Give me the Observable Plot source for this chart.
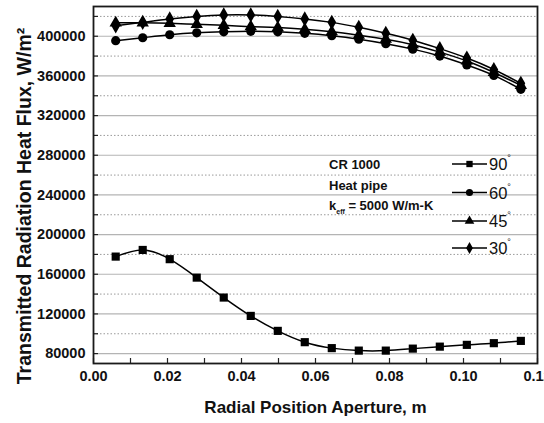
<!DOCTYPE html>
<html>
<head>
<meta charset="utf-8">
<script src="https://cdn.jsdelivr.net/npm/d3@7"></script>
<script src="https://cdn.jsdelivr.net/npm/@observablehq/plot@0.6"></script>
<style>
  html, body { margin: 0; padding: 0; background: #fff; overflow: hidden; }
  #wrap { position: relative; width: 544px; height: 423px; }
  #overlay { position: absolute; left: 0; top: 0; pointer-events: none; }
</style>
</head>
<body>
<div id="wrap"></div>
<script>
// ---- data ----
const radial = [0.006, 0.0133, 0.0206, 0.0279, 0.0352, 0.0425, 0.0498, 0.0571, 0.0644, 0.0717, 0.079, 0.0863, 0.0936, 0.1009, 0.1082, 0.1155];
const flux90 = [177800, 184500, 175200, 156600, 136500, 118000, 102900, 91500, 85500, 83000, 83000, 85000, 87000, 88800, 90500, 92800];
const flux60 = [395500, 398500, 401500, 403500, 404500, 405000, 404500, 403000, 400500, 397000, 392500, 387000, 380000, 371000, 360500, 346500];
const flux45 = [413500, 413500, 413000, 412000, 411000, 409700, 408700, 407000, 404500, 401000, 397000, 391500, 384000, 375000, 363500, 350500];
const flux30 = [410500, 414000, 417500, 420000, 421500, 421500, 420000, 417500, 414000, 409000, 403000, 396000, 387500, 378000, 366500, 352500];
const seriesNames = ["90", "60", "45", "30"];
const seriesSymbols = ["square", "circle", "triangle", "diamond"];
const seriesValues = [flux90, flux60, flux45, flux30];
const xTicks = [0, 0.02, 0.04, 0.06, 0.08, 0.10, 0.12];
const xMinorTicks = [0, 0.01, 0.02, 0.03, 0.04, 0.05, 0.06, 0.07, 0.08, 0.09, 0.10, 0.11, 0.12];
const yTicks = [80000, 120000, 160000, 200000, 240000, 280000, 320000, 360000, 400000];
const yMinorTicks = [100000, 140000, 180000, 220000, 260000, 300000, 340000, 380000, 420000];
const xTitle = "Radial Position Aperture, m";
const yTitle = "Transmitted Radiation Heat Flux, W/m²";
const noteLines = ["CR 1000", "Heat pipe"];

const rows = [];
seriesNames.forEach((name, i) => {
  radial.forEach((r, j) => rows.push({series: name, symbol: seriesSymbols[i], x: r, y: seriesValues[i][j]}));
});

const font = "'Liberation Sans', Arial, sans-serif";

const plot = Plot.plot({
  width: 544,
  height: 423,
  marginLeft: 93,
  marginRight: 7,
  marginTop: 6,
  marginBottom: 60,
  style: {fontFamily: font, background: "#fff", overflow: "hidden"},
  x: {domain: [0, 0.12]},
  y: {domain: [70000, 430000]},
  symbol: {type: "identity"},
  marks: [
    Plot.ruleY(yMinorTicks, {stroke: "#9a9a9a", strokeWidth: 1, strokeDasharray: "1.5,2"}),
    Plot.ruleY(yTicks, {stroke: "#b4b4b4", strokeWidth: 1.2}),
    Plot.axisX(xTicks, {tickSize: 0, tickPadding: 7, tickFormat: d3.format(".2f"), fontSize: 14.5, fontWeight: "bold", fill: "#111", label: null}),
    Plot.axisX(xMinorTicks, {tickSize: 5, dy: -5, text: null, label: null, stroke: "#222", strokeWidth: 1.2}),
    Plot.axisY(yTicks, {tickSize: 0, tickPadding: 8, tickFormat: d3.format("d"), fontSize: 14.5, fontWeight: "bold", fill: "#111", label: null}),
    Plot.axisY(yTicks.concat(yMinorTicks), {tickSize: 5, dx: 5, text: null, label: null, stroke: "#222", strokeWidth: 1.2}),
    Plot.line(rows, {x: "x", y: "y", z: "series", curve: "natural", stroke: "#000", strokeWidth: 1.5}),
    Plot.dot(rows, {x: "x", y: "y", symbol: "symbol", r: 4.6, fill: "#000", stroke: "none"}),
    Plot.frame({stroke: "#1a1a1a", strokeWidth: 1.8}),
    Plot.text([xTitle], {text: d => d, frameAnchor: "bottom", textAnchor: "middle", dy: 49, fontSize: 17, fontWeight: "bold", fill: "#111"}),
    Plot.text([yTitle], {text: d => d, frameAnchor: "left", textAnchor: "middle", rotate: -90, dx: -69, dy: 21, fontSize: 19.5, fontWeight: "bold", fill: "#111"})
  ]
});
document.getElementById("wrap").appendChild(plot);

// ---- legend and annotation overlay ----
const svg = d3.select("#wrap").append("svg")
  .attr("id", "overlay").attr("width", 544).attr("height", 423)
  .style("font-family", font);

const legendRowY = [164, 192.5, 221, 248];
const symMap = {square: d3.symbolSquare, circle: d3.symbolCircle, triangle: d3.symbolTriangle, diamond: d3.symbolDiamond};
seriesNames.forEach((name, i) => {
  const g = svg.append("g").attr("transform", `translate(452,${legendRowY[i]})`);
  g.append("line").attr("x1", 0).attr("x2", 35).attr("y1", 0).attr("y2", 0).attr("stroke", "#000").attr("stroke-width", 1.6);
  g.append("path").attr("d", d3.symbol(symMap[seriesSymbols[i]], 40)()).attr("transform", "translate(17.5,0)").attr("fill", "#000");
  const t = g.append("text").attr("x", 37).attr("y", 6).attr("font-size", 16.5).attr("fill", "#111").text(name);
  t.append("tspan").attr("dy", -9).attr("font-size", 9).text("°");
});

const notes = svg.append("g").attr("font-weight", "bold").attr("font-size", 13).attr("fill", "#111");
notes.append("text").attr("x", 329).attr("y", 168.5).text(noteLines[0]);
notes.append("text").attr("x", 329).attr("y", 189.5).text(noteLines[1]);
const k = notes.append("text").attr("x", 329).attr("y", 210);
k.append("tspan").text("k");
k.append("tspan").attr("dy", 4).attr("font-size", 7).text("eff");
k.append("tspan").attr("dy", -4).text(" = 5000 W/m-K");
</script>
</body>
</html>
